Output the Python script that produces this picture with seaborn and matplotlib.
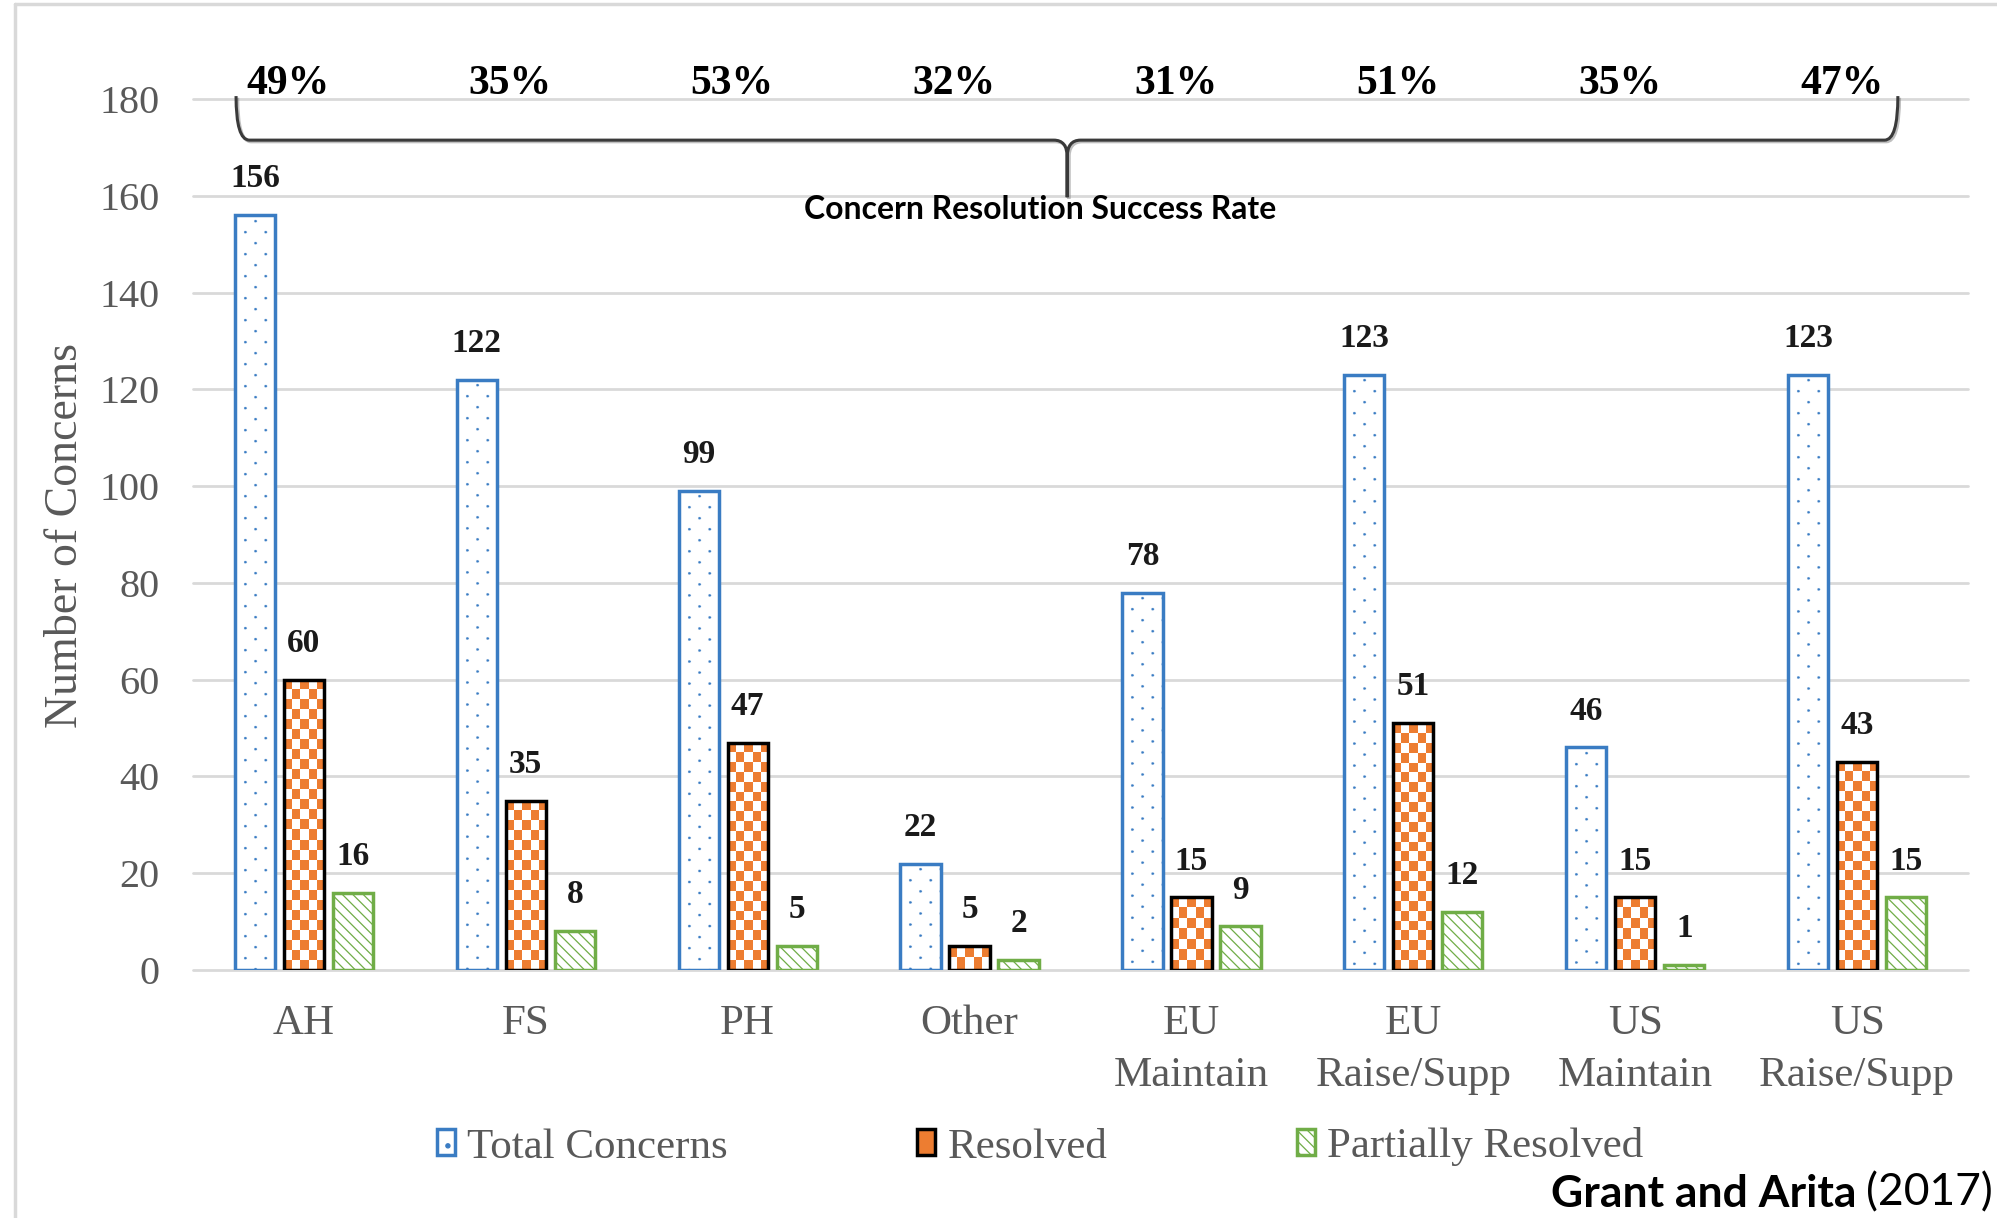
import numpy as np
import pandas as pd
import matplotlib
matplotlib.use("Agg")
import matplotlib.pyplot as plt
import matplotlib.patheffects as pe
from matplotlib.path import Path
from matplotlib.patches import PathPatch
from matplotlib.lines import Line2D
import seaborn as sns

# ---- data ----
categories = ["AH", "FS", "PH", "Other", "EU\nMaintain", "EU\nRaise/Supp",
              "US\nMaintain", "US\nRaise/Supp"]
total_concerns = [156, 122, 99, 22, 78, 123, 46, 123]
resolved = [60, 35, 47, 5, 15, 51, 15, 43]
partially_resolved = [16, 8, 5, 2, 9, 12, 1, 15]
success_rate = ["49%", "35%", "53%", "32%", "31%", "51%", "35%", "47%"]
series_names = ["Total Concerns", "Resolved", "Partially Resolved"]
y_ticks = [0, 20, 40, 60, 80, 100, 120, 140, 160, 180]

wide = pd.DataFrame({
    "category": categories,
    "Total Concerns": total_concerns,
    "Resolved": resolved,
    "Partially Resolved": partially_resolved,
})
df = wide.melt(id_vars="category", var_name="series", value_name="count")

# ---- style ----
BLUE = "#3a7cc3"
ORANGE = "#ed7d31"
GREEN = "#70ad47"
GRAY_TXT = "#595959"
GRID = "#d9d9d9"

DPI = 125
S = 100 / DPI          # sizes below are tuned as points at 100 dpi

sns.set_style("white")
plt.rcParams["font.family"] = ["Liberation Serif", "DejaVu Serif"]
plt.rcParams["hatch.linewidth"] = 0.9 * S

W, H = 1997, 1218
fig = plt.figure(figsize=(W / DPI, H / DPI), dpi=DPI)
ax = fig.add_axes([193 / W, 1 - 970 / H, (1968 - 193) / W, (970 - 99) / H])

sns.barplot(data=df, x="category", y="count", hue="series",
            order=categories, hue_order=series_names,
            palette=[BLUE, ORANGE, GREEN], saturation=1,
            width=0.663, gap=0.18, errorbar=None, legend=False, ax=ax)

styles = [
    dict(face="white", edge=BLUE, hatch="."),
    dict(face=ORANGE, edge="black", hatch=None),
    dict(face="white", edge=GREEN, hatch="\\\\\\\\"),
]
for cont, st in zip(ax.containers, styles):
    for bar in cont:
        bar.set_facecolor(st["face"])
        bar.set_edgecolor(st["edge"])
        bar.set_linewidth(2.5 * S)
        if st["hatch"]:
            bar.set_hatch(st["hatch"])

ax.set_xlim(-0.5, 7.5)
ax.set_ylim(0, 180)
ax.set_yticks(y_ticks)
ax.set_xlabel("")
ax.set_ylabel("")
for s in ax.spines.values():
    s.set_visible(False)
ax.set_axisbelow(True)
ax.yaxis.grid(True, color=GRID, linewidth=2.0 * S)
ax.xaxis.grid(False)
for gl in ax.get_ygridlines():
    gl.set_clip_on(False)
ax.tick_params(axis="y", length=0, pad=24 * S, labelsize=29 * S, labelcolor=GRAY_TXT)
ax.tick_params(axis="x", length=0, pad=25 * S, labelsize=31 * S, labelcolor=GRAY_TXT)
for lab in ax.get_xticklabels():
    lab.set_linespacing(1.45)

# value labels above every bar
for cont, vals in zip(ax.containers, [total_concerns, resolved, partially_resolved]):
    ax.bar_label(cont, labels=[str(v) for v in vals], padding=15 * S,
                 fontsize=24 * S, fontweight="bold", color="#1a1a1a")

# success-rate labels across the top
for i, pct in enumerate(success_rate):
    ax.text(i - 0.07, 183.0, pct, ha="center", va="center", fontsize=30 * S,
            fontweight="bold", color="black", clip_on=False)

# curly brace grouping the success rates
x0, x1, xm = -0.306, 7.184, 3.44
y_top, y_bar, y_tip = 180.6, 171.5, 159.7
rx, ry = 0.06, 3.5
verts = [
    (x0, y_top), (x0, y_bar), (x0 + rx, y_bar),
    (xm - rx, y_bar), (xm, y_bar), (xm, y_bar - ry),
    (xm, y_tip), (xm, y_bar - ry),
    (xm, y_bar), (xm + rx, y_bar),
    (x1 - rx, y_bar), (x1, y_bar), (x1, y_top),
]
codes = [
    Path.MOVETO, Path.CURVE3, Path.CURVE3,
    Path.LINETO, Path.CURVE3, Path.CURVE3,
    Path.LINETO, Path.LINETO,
    Path.CURVE3, Path.CURVE3,
    Path.LINETO, Path.CURVE3, Path.CURVE3,
]
brace = PathPatch(Path(verts, codes), facecolor="none", edgecolor="#3a3a3a",
                  linewidth=2.2 * S, clip_on=False, zorder=3,
                  path_effects=[pe.SimpleLineShadow(offset=(1.2 * S, -1.2 * S),
                                                    shadow_color="gray", alpha=0.5),
                                pe.Normal()])
ax.add_patch(brace)
ax.text(3.317, 157.1, "Concern Resolution Success Rate", ha="center", va="center",
        fontsize=23 * S, fontweight="bold", family=["Lato", "DejaVu Sans"], color="black")

# legend (built before the bar textures replace the plain fills)
leg = fig.legend(ax.containers[:3], series_names, loc="center",
                 bbox_to_anchor=(1040 / W, 1 - 1147 / H), ncol=3, frameon=False,
                 fontsize=31 * S, labelcolor=GRAY_TXT, handlelength=0.42,
                 handleheight=0.55, handletextpad=0.28, columnspacing=4.4)


def bar_pixels(bar):
    bx, by, bw, bh = bar.get_x(), bar.get_y(), bar.get_width(), bar.get_height()
    p0 = ax.transData.transform((bx, by))
    p1 = ax.transData.transform((bx + bw, by + bh))
    return (bx, by, bw, bh), p1[0] - p0[0], p1[1] - p0[1]


def add_texture(bar, img):
    (bx, by, bw, bh), _, _ = bar_pixels(bar)
    im = ax.imshow(img, extent=(bx, bx + bw, by, by + bh), origin="upper",
                   aspect="auto", interpolation="antialiased",
                   zorder=bar.get_zorder() - 0.05)
    im.set_clip_path(bar)


orange_rgb = np.array(matplotlib.colors.to_rgb(ORANGE))
blue_rgb = np.array(matplotlib.colors.to_rgb(BLUE))
white_rgb = np.ones(3)

# checkerboard texture for the "Resolved" bars
for bar in ax.containers[1]:
    _, pw, ph = bar_pixels(bar)
    nx = max(1, int(round(pw / 7.5)))
    ny = max(1, int(round(ph / 10)))
    checker = np.add.outer(np.arange(ny), np.arange(nx)) % 2
    img = np.where(checker[..., None] == 0, orange_rgb, white_rgb)
    add_texture(bar, img)
    bar.set_facecolor("none")

# staggered dot texture for the "Total Concerns" bars
UP = 3  # texture supersampling
for bar in ax.containers[0]:
    _, pw, ph = bar_pixels(bar)
    nx, ny = int(round(pw * UP)), int(round(ph * UP))
    yy, xx = np.mgrid[0:ny, 0:nx] / UP
    cx = pw / 2
    row = np.round((yy - 6) / 11)
    col = np.round((xx - cx) / 10)
    dy = yy - (6 + 11 * row)
    dx = xx - (cx + 10 * col)
    on = ((row + col) % 2 == 0) & (dx ** 2 + dy ** 2 <= 1.3 ** 2) & (row >= 0)
    img = np.where(on[..., None], blue_rgb, white_rgb)
    add_texture(bar, img)
    bar.set_hatch(None)
    bar.set_facecolor("none")

ax.set_xlim(-0.5, 7.5)
ax.set_ylim(0, 180)

# axis title
fig.text(66 / W, 1 - 535 / H, "Number of Concerns", rotation=90, ha="center",
         va="center", fontsize=33 * S, color=GRAY_TXT)

# chart-area frame edges
fig.add_artist(Line2D([15 / W, 15 / W], [0, 1 - 4 / H], color=GRID, linewidth=2.5 * S))
fig.add_artist(Line2D([15 / W, 1], [1 - 4 / H, 1 - 4 / H], color=GRID, linewidth=2.5 * S))

# source note
yr = fig.text(1993 / W, 1 - 1193 / H, "(2017)", ha="right", va="center",
              fontsize=32 * S, family=["Lato", "DejaVu Sans"], color="black")
ax.annotate("Grant and Arita", xy=(0, 0), xycoords=yr, xytext=(-7 * S, 0),
            textcoords="offset points", ha="right", va="bottom", fontsize=32 * S,
            fontweight="bold", family=["Lato", "DejaVu Sans"], color="black",
            annotation_clip=False)

fig.savefig("out.png", dpi=DPI, facecolor="white")
